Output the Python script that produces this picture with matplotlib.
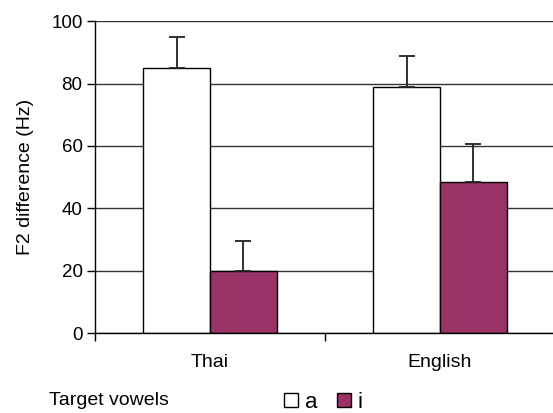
import matplotlib
matplotlib.use("Agg")
import matplotlib.pyplot as plt
from matplotlib.patches import Patch
import numpy as np

plt.rcParams['font.family'] = ['Liberation Sans', 'DejaVu Sans']

languages = ["Thai", "English"]
vowels = ["a", "i"]
f2_diff = {"a": [85, 79], "i": [20, 48.5]}
f2_err = {"a": [10, 9.7], "i": [9.6, 12.2]}
colors = {"a": "#ffffff", "i": "#993366"}

fig = plt.figure(figsize=(5.53, 4.13), dpi=100)
ax = fig.add_axes([0.1718, 0.193, 0.8318, 0.756])

x = np.arange(len(languages))
w = 0.29
for k, v in enumerate(vowels):
    offs = (k - 0.5) * w
    ax.bar(x + offs, f2_diff[v], width=w, color=colors[v], edgecolor="black",
           linewidth=1.0, zorder=3)
    ax.errorbar(x + offs, f2_diff[v], yerr=[np.zeros(len(languages)), f2_err[v]],
                fmt="none", ecolor="#222222", elinewidth=1.3, capsize=6,
                capthick=1.3, zorder=4)

ax.set_xlim(-0.5, 1.5)
ax.set_ylim(0, 100)
ax.set_yticks(np.arange(0, 101, 20))
ax.set_xticks(x)
ax.set_xticklabels(languages)
ax.set_xticks([-0.5, 0.5, 1.5], minor=True)
ax.tick_params(axis="x", which="major", length=0, labelsize=14, pad=15)
ax.tick_params(axis="x", which="minor", length=6, width=1, direction="out")
ax.tick_params(axis="y", length=6, width=1, labelsize=13.5, pad=3)
ax.yaxis.grid(True, color="#333333", linewidth=1.0, zorder=0)
ax.set_axisbelow(True)
for s in ["top", "right"]:
    ax.spines[s].set_visible(False)
for s in ["left", "bottom"]:
    ax.spines[s].set_linewidth(1.0)
    ax.spines[s].set_zorder(5)
ax.set_ylabel("F2 difference (Hz)", fontsize=14, labelpad=12)

fig.text(0.088, 0.03, "Target vowels", fontsize=14, va="center")
handles = [Patch(facecolor=colors[v], edgecolor="black", linewidth=1.0) for v in vowels]
fig.legend(handles, vowels, loc="center", bbox_to_anchor=(0.585, 0.026), ncol=2,
           frameon=False, fontsize=16, handlelength=0.62, handleheight=0.62,
           handletextpad=0.3, columnspacing=0.9, borderpad=0)

fig.savefig("out.png", dpi=100)
